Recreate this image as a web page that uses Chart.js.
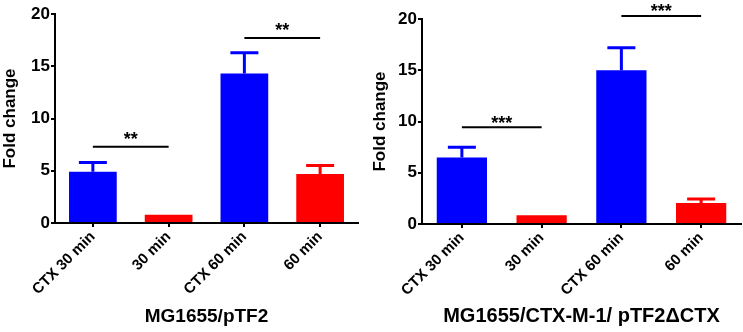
<!DOCTYPE html>
<html>
<head>
<meta charset="utf-8">
<script src="https://cdn.jsdelivr.net/npm/chart.js@4/dist/chart.umd.min.js"></script>
<style>
  body { margin: 0; background: #fff; }
  #wrap { position: relative; width: 743px; height: 332px; }
  .panel { position: absolute; top: 0; }
</style>
</head>
<body>
<div id="wrap">
  <div class="panel" style="left:0px"><canvas id="chartLeft" width="370" height="332"></canvas></div>
  <div class="panel" style="left:370px"><canvas id="chartRight" width="373" height="332"></canvas></div>
</div>
<script>
//DATOS
const categorias = ["CTX 30 min", "30 min", "CTX 60 min", "60 min"];
const colores = ["#0000ff", "#ff0000", "#0000ff", "#ff0000"];
const yTicks = [0, 5, 10, 15, 20];

// panel izquierdo: MG1655/pTF2
const valoresIzq = [4.9, 0.8, 14.3, 4.7];
const erroresIzq = [5.8, 0.8, 16.3, 5.5]; // extremo superior de la barra de error
const sigIzq = [
  { desde: 0, hasta: 1, y: 7.3, texto: "**" },
  { desde: 2, hasta: 3, y: 17.7, texto: "**" },
];

// panel derecho: MG1655/CTX-M-1/ pTF2ΔCTX
const valoresDer = [6.5, 0.85, 15.0, 2.05];
const erroresDer = [7.5, 0.85, 17.2, 2.45];
const sigDer = [
  { desde: 0, hasta: 1, y: 9.45, texto: "***" },
  { desde: 2, hasta: 3, y: 20.3, texto: "***" },
];

const FUENTE = "'Liberation Sans', Arial, sans-serif";

//plugin para barras de error y lineas de significancia
const pluginExtras = {
  id: "extras",
  afterDatasetsDraw(chart, args, opts) {
    const ctx = chart.ctx;
    const x = chart.scales.x;
    const y = chart.scales.y;
    ctx.save();
    opts.errores.forEach((e, i) => {
      if (e <= opts.valores[i]) return;
      const px = x.getPixelForValue(i);
      const y0 = y.getPixelForValue(opts.valores[i]);
      const y1 = y.getPixelForValue(e);
      ctx.strokeStyle = colores[i];
      ctx.lineWidth = 3;
      ctx.beginPath();
      ctx.moveTo(px, y0);
      ctx.lineTo(px, y1);
      ctx.moveTo(px - 14, y1);
      ctx.lineTo(px + 14, y1);
      ctx.stroke();
    });
    opts.sig.forEach((s) => {
      const x0 = x.getPixelForValue(s.desde);
      const x1 = x.getPixelForValue(s.hasta);
      const py = y.getPixelForValue(s.y);
      ctx.strokeStyle = "#000";
      ctx.lineWidth = 2;
      ctx.beginPath();
      ctx.moveTo(x0, py);
      ctx.lineTo(x1, py);
      ctx.stroke();
      ctx.fillStyle = "#000";
      ctx.font = "bold 18px " + FUENTE;
      ctx.textAlign = "center";
      ctx.textBaseline = "alphabetic";
      ctx.fillText(s.texto, (x0 + x1) / 2, py + opts.sigOffset);
    });
    ctx.restore();
  },
};

function crearGrafico(id, valores, errores, sig, titulo, cfg) {
  const config = {
    type: "bar",
    data: {
      labels: categorias,
      datasets: [
        {
          data: valores,
          backgroundColor: colores,
          borderWidth: 0,
          barPercentage: 0.63,
          categoryPercentage: 1,
        },
      ],
    },
    plugins: [pluginExtras],
    options: {
      responsive: false,
      animation: false,
      layout: { padding: { top: cfg.top, right: cfg.right, bottom: 0, left: 0 } },
      plugins: {
        legend: { display: false },
        tooltip: { enabled: false },
        extras: { valores: valores, errores: errores, sig: sig, sigOffset: cfg.sigOffset },
      },
      scales: {
        x: {
          offset: true,
          afterFit: (s) => { s.height = cfg.xAlto; },
          border: { display: true, color: "#000", width: 2 },
          grid: { display: true, drawOnChartArea: false, offset: false, tickLength: 4, color: "#000", lineWidth: 2 },
          ticks: {
            color: "#000",
            maxRotation: 45,
            minRotation: 45,
            padding: 1,
            font: { family: FUENTE, weight: "bold", size: 15 },
          },
          title: {
            display: true,
            text: titulo,
            color: "#000",
            padding: { top: 0, bottom: 4 },
            font: { family: FUENTE, weight: "bold", size: cfg.tituloSize },
          },
        },
        y: {
          min: 0,
          max: 20,
          afterFit: (s) => { s.width = cfg.yAncho; },
          afterBuildTicks: (s) => { s.ticks = yTicks.map((v) => ({ value: v })); },
          border: { display: true, color: "#000", width: 2 },
          grid: { display: true, drawOnChartArea: false, tickLength: 4, color: "#000", lineWidth: 2 },
          ticks: {
            color: "#000",
            padding: 1,
            font: { family: FUENTE, weight: "bold", size: 17 },
          },
          title: {
            display: true,
            text: "Fold change",
            color: "#000",
            padding: 0,
            font: { family: FUENTE, weight: "bold", size: 17 },
          },
        },
      },
    },
  };
  return new Chart(document.getElementById(id), config);
}

crearGrafico("chartLeft", valoresIzq, erroresIzq, sigIzq, "MG1655/pTF2",
  { top: 14, right: 12, xAlto: 109, yAncho: 55, tituloSize: 19, sigOffset: -2 });
crearGrafico("chartRight", valoresDer, erroresDer, sigDer, "MG1655/CTX-M-1/ pTF2\u0394CTX",
  { top: 19, right: 2, xAlto: 108, yAncho: 52, tituloSize: 20, sigOffset: 1.5 });
</script>
</body>
</html>
